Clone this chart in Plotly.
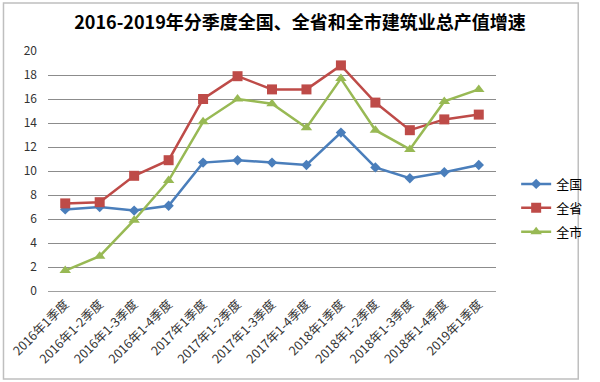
import plotly.graph_objects as go

categories = ["2016年1季度", "2016年1-2季度", "2016年1-3季度", "2016年1-4季度",
              "2017年1季度", "2017年1-2季度", "2017年1-3季度", "2017年1-4季度",
              "2018年1季度", "2018年1-2季度", "2018年1-3季度", "2018年1-4季度",
              "2019年1季度"]
national = [6.8, 7.0, 6.7, 7.1, 10.7, 10.9, 10.7, 10.5, 13.2, 10.3, 9.4, 9.9, 10.5]
province = [7.3, 7.4, 9.6, 10.9, 16.0, 17.9, 16.8, 16.8, 18.8, 15.7, 13.4, 14.3, 14.7]
city = [1.7, 2.9, 5.9, 9.2, 14.1, 16.0, 15.6, 13.6, 17.7, 13.4, 11.8, 15.8, 16.8]
series_names = ["全国", "全省", "全市"]
y_ticks = [0, 2, 4, 6, 8, 10, 12, 14, 16, 18, 20]

FONT = "Noto Sans CJK SC"

fig = go.Figure()
styles = [
    (national, "#4A7EBB", "diamond", 8),
    (province, "#BE4B48", "square", 10),
    (city, "#98B954", "triangle-up", 10),
]
for name, (vals, color, sym, size) in zip(series_names, styles):
    fig.add_trace(go.Scatter(
        x=list(range(len(categories))), y=vals, name=name, legendgroup=name,
        mode="lines+markers",
        line=dict(color=color, width=2.5),
        marker=dict(symbol=sym, size=size, color=color),
    ))

fig.update_layout(
    width=600, height=382,
    margin=dict(l=48, r=89, t=51, b=91),
    paper_bgcolor="white", plot_bgcolor="white",
    title=dict(text="<b>2016-2019年分季度全国、全省和全市建筑业总产值增速</b>",
               x=0.5, xanchor="center", y=0.94, yanchor="middle",
               font=dict(family=FONT, size=18, color="#000000")),
    font=dict(family=FONT, size=12, color="#333333"),
    xaxis=dict(
        range=[-0.5, len(categories) - 0.5], automargin=False,
        tickmode="array", tickvals=list(range(len(categories))), ticktext=categories,
        tickangle=-45, showgrid=False, zeroline=False,
        showline=True, linecolor="#A0A0A0", linewidth=1,
        tickfont=dict(family=FONT, size=12.5, color="#333333"),
    ),
    yaxis=dict(
        range=[0, 20], tickmode="array", tickvals=y_ticks, automargin=False,
        showgrid=True, gridcolor="#8C8C8C", gridwidth=1,
        zeroline=False, showline=False,
        tickfont=dict(family=FONT, size=12, color="#333333"),
        ticklabelstandoff=10,
    ),
    legend=dict(x=1.045, y=0.346, xanchor="left", yanchor="middle",
                font=dict(family=FONT, size=13, color="#000000"),
                bgcolor="rgba(0,0,0,0)", tracegroupgap=4, itemwidth=30),
    showlegend=True,
)

fig.add_shape(type="rect", xref="paper", yref="paper",
              x0=-46/463, x1=(596-48)/463, y0=-(379-291)/240, y1=(291-3)/240,
              line=dict(color="#BFBFBF", width=1.5), fillcolor="rgba(0,0,0,0)", layer="below")

fig.write_html("out.html", config={"displayModeBar": False},
               post_script="document.body.style.margin='0';document.body.style.padding='0';document.documentElement.style.overflow='hidden';")
